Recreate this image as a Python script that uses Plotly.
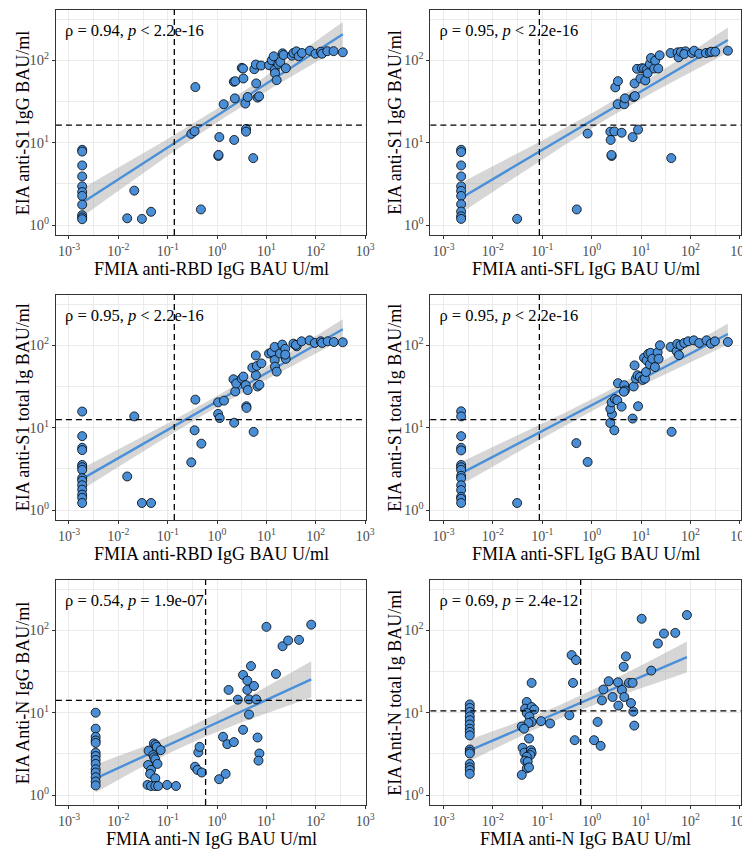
import math
import numpy as np
import plotly.graph_objects as go

# ---------------- data ----------------
p1_x = [0.00185, 0.00185, 0.00185, 0.00185, 0.00185, 0.00185, 0.00185, 0.00185, 0.00185, 0.00185, 0.00185,
        0.021, 0.0151, 0.030, 0.046, 0.47, 0.363, 0.30, 0.35, 1.11, 1.06, 1.07, 2.22, 3.86, 3.86, 5.4,
        1.36, 2.29, 3.74, 4.17, 6.6, 7.1, 2.19, 2.33, 3.41, 6.2, 3.16, 3.36, 5.67, 6.1, 7.8, 11.3, 12.8,
        14.0, 14.7, 14.9, 16.1, 17.4, 19.1, 21.2, 22.2, 24.7, 32.6, 35.2, 40.4, 45.0, 52.5, 75.9, 98.5,
        126, 134, 171, 229, 352]
p1_y = [8.2, 7.8, 5.3, 3.9, 2.95, 2.52, 2.26, 1.77, 1.32, 1.24, 1.18,
        2.62, 1.21, 1.19, 1.45, 1.55, 47.3, 12.8, 13.8, 11.7, 6.9, 7.1, 10.8, 14.7, 13.6, 6.5,
        29.3, 34.5, 29.8, 35.8, 35.2, 36.5, 54.8, 55.8, 60.1, 52.4, 80.9, 79.4, 78.0, 88.8, 86.3, 87.1, 100,
        111.7, 76.5, 69.7, 57.4, 90.3, 95.5, 121.4, 115.9, 80.1, 113.8, 122.5, 128.3, 111.7, 122.5, 130.7, 120,
        127, 120, 129, 129, 125]

p2_x = [0.00228, 0.00228, 0.00228, 0.00228, 0.00228, 0.00228, 0.00228, 0.00228, 0.00228, 0.00228, 0.00228,
        0.031, 0.50, 0.83, 2.39, 2.88, 4.05, 2.43, 2.54, 2.52, 6.76, 8.7, 40.9, 3.37, 4.58, 4.73, 7.1, 7.5,
        3.01, 3.41, 7.4, 9.7, 12.2, 8.3, 10.4, 11.5, 13.0, 13.6, 15.1, 15.9, 18.5, 19.4, 22.3, 23.8, 39.7,
        55.0, 57.5, 64.3, 79.8, 75, 107, 119, 151, 206, 248, 268, 318, 574]
p2_y = [8.2, 7.7, 5.3, 3.9, 2.95, 2.6, 2.26, 1.79, 1.46, 1.28, 1.19,
        1.19, 1.55, 12.9, 13.6, 13.7, 13.2, 10.8, 6.9, 7.1, 11.7, 14.4, 6.5, 29.3, 29.3, 34.5, 35.8, 36.8,
        46.9, 55.8, 52.4, 60.1, 56.9, 78.7, 80.1, 79.4, 76.5, 69.7, 90.3, 106.6, 79.4, 99.1, 79.4, 114.9, 122.5,
        124.8, 108.7, 126, 128.3, 119, 122.5, 130.6, 120, 122.5, 124.8, 127, 127, 130.6]

p3_x = [0.00185, 0.00185, 0.00185, 0.00185, 0.00185, 0.00185, 0.00185, 0.00185, 0.00185, 0.00185, 0.00185,
        0.00185, 0.00185, 0.00185,
        0.021, 0.0151, 0.030, 0.046, 0.30, 0.35, 0.48, 0.363, 1.05, 1.38, 1.05, 1.13, 2.22, 5.5, 3.92, 3.95,
        2.33, 2.15, 2.44, 3.16, 3.41, 3.8, 4.17, 6.1, 6.6, 7.2, 5.17, 6.4, 7.9, 6.1, 11.3, 12.8, 14.7, 14.7,
        14.9, 16.1, 18.8, 20.9, 24.0, 24.7, 24.0, 35.2, 41.0, 39.5, 51.6, 74.7, 95.5, 126, 134, 174, 232, 352]
p3_y = [15.7, 7.9, 5.7, 5.35, 3.53, 3.31, 3.08, 2.44, 2.27, 2.0, 1.77, 1.54, 1.41, 1.22,
        13.7, 2.56, 1.22, 1.22, 3.8, 9.3, 6.4, 21.9, 20.3, 21.3, 14.7, 13.1, 11.5, 8.9, 18.2, 17.4,
        27.5, 38.7, 34.4, 39.4, 41.7, 32.8, 28.6, 43.3, 31.6, 33.1, 53.5, 56.0, 60.3, 75.2, 79.4, 82.4, 95.5, 66.1,
        55.0, 47.9, 79.4, 101.9, 90.4, 68.5, 77.0, 104.7, 97.3, 101, 111.7, 114.8, 106.7, 111.7, 106.7, 111.7, 109.6, 108.7]

p4_x = [0.00228, 0.00228, 0.00228, 0.00228, 0.00228, 0.00228, 0.00228, 0.00228, 0.00228, 0.00228, 0.00228,
        0.00228, 0.00228, 0.00228, 0.00228,
        0.031, 0.49, 0.83, 2.39, 2.88, 2.58, 2.39, 2.54, 2.97, 3.31, 4.05, 6.76, 8.7, 41.6, 3.41, 4.58, 4.73,
        4.5, 7.1, 7.4, 7.9, 8.5, 9.5, 10.8, 12.0, 12.6, 11.5, 13.0, 14.0, 15.6, 15.1, 16.9, 19.1, 21.7, 22.7,
        24.2, 39.7, 52.5, 58.5, 54.1, 63.1, 75, 90, 117, 151, 212, 260, 313, 574]
p4_y = [15.8, 13.7, 7.9, 5.7, 5.3, 3.53, 3.31, 3.08, 2.61, 2.44, 2.0, 1.75, 1.45, 1.37, 1.22,
        1.22, 6.5, 3.84, 11.4, 9.3, 14.6, 16.9, 20.3, 22.3, 21.5, 18.0, 12.9, 18.2, 8.9, 34.7, 32.8, 28.3,
        27.3, 31.6, 57.0, 39.4, 43.3, 41.3, 38.0, 39.4, 47.4, 70.5, 65.5, 78.7, 80.9, 58.6, 68.5, 54.4, 82.4, 68.5,
        100, 95.5, 84.7, 75.9, 103.8, 100, 106.7, 111.7, 114.8, 106.7, 114.8, 104.7, 111.7, 109.6]

p5_x = [0.00347, 0.00347, 0.00347, 0.00347, 0.00347, 0.00347, 0.00347, 0.00347, 0.00347, 0.00347, 0.00347,
        0.00347, 0.00347, 0.00347,
        0.041, 0.0525, 0.0567, 0.060, 0.072, 0.051, 0.053, 0.056, 0.040, 0.046, 0.062, 0.044, 0.056, 0.039,
        0.046, 0.056, 0.064, 0.097, 0.147, 0.417, 0.443, 0.357, 0.40, 0.49, 1.10, 1.49, 1.32, 1.61, 2.19,
        1.71, 2.63, 3.36, 3.36, 4.1, 4.1, 4.43, 4.43, 4.86, 5.6, 6.2, 6.6, 7.2, 6.9, 10.0, 15.6, 21.2, 27.5,
        45.7, 80.7]
p5_y = [10.0, 6.4, 5.1, 4.6, 4.3, 3.27, 2.98, 2.67, 2.39, 2.06, 1.88, 1.65, 1.46, 1.31,
        3.45, 4.24, 4.08, 3.85, 3.51, 3.06, 2.87, 2.72, 2.32, 2.02, 2.39, 1.81, 1.60, 1.33,
        1.29, 1.29, 1.29, 1.33, 1.29, 3.3, 3.85, 2.21, 2.02, 1.88, 1.56, 1.81, 5.1, 4.15, 4.4,
        18.9, 14.4, 6.2, 28.7, 24.5, 18.9, 9.5, 14.5, 36.8, 21.1, 14.5, 5.0, 3.2, 2.62, 110, 29.5, 64.1, 75.1,
        76.5, 117]

p6_x = [0.00341, 0.00341, 0.00341, 0.00341, 0.00341, 0.00341, 0.00341, 0.00341, 0.00341, 0.00341, 0.00341,
        0.00341, 0.00341, 0.00341, 0.00341, 0.00341,
        0.0486, 0.045, 0.061, 0.069, 0.0486, 0.055, 0.061, 0.0525, 0.0385, 0.0428, 0.054, 0.040, 0.0435,
        0.059, 0.061, 0.0575, 0.0486, 0.045, 0.0508, 0.0486, 0.054, 0.0385, 0.061, 0.0946, 0.144,
        0.394, 0.483, 0.42, 0.354, 0.454, 1.12, 1.52, 1.32, 1.62, 1.73, 2.21, 2.66, 3.41, 3.47, 4.11, 4.45,
        4.58, 4.95, 5.7, 6.76, 6.26, 6.98, 7.3, 10.3, 16.1, 22.0, 29.1, 49.3, 84.9]
p6_y = [12.6, 11.4, 10.2, 9.0, 8.1, 7.2, 6.4, 5.85, 5.3, 3.58, 3.36, 3.2, 2.39, 2.17, 2.02, 1.81,
        13.5, 11.2, 11.7, 10.9, 9.9, 9.0, 7.7, 7.5, 6.8, 6.4, 4.86, 3.75, 3.27,
        3.51, 3.27, 3.06, 2.92, 2.62, 2.55, 2.11, 2.17, 1.76, 23.0, 7.9, 7.4,
        50.0, 43.5, 23.0, 9.3, 4.64, 4.64, 3.96, 7.73, 14.1, 19.1, 24.1, 15.5, 23.4, 12.2, 18.9, 36.1,
        15.5, 48.2, 23.0, 23.0, 13.1, 10.3, 6.97, 138, 32.4, 69.1, 91.2, 92.9, 153]

cut_x = [0.136, 0.0875, 0.136, 0.0875, 0.585, 0.60]
cut_y = [16.3, 16.3, 12.5, 12.5, 14.1, 10.5]
cor_labels = ["ρ = 0.94, <i>p</i> &lt; 2.2e-16", "ρ = 0.95, <i>p</i> &lt; 2.2e-16",
              "ρ = 0.95, <i>p</i> &lt; 2.2e-16", "ρ = 0.95, <i>p</i> &lt; 2.2e-16",
              "ρ = 0.54, <i>p</i> = 1.9e-07", "ρ = 0.69, <i>p</i> = 2.4e-12"]
x_titles = ["FMIA anti-RBD IgG BAU U/ml", "FMIA anti-SFL IgG BAU U/ml",
            "FMIA anti-RBD IgG BAU U/ml", "FMIA anti-SFL IgG BAU U/ml",
            "FMIA anti-N IgG BAU U/ml", "FMIA anti-N IgG BAU U/ml"]
y_titles = ["EIA anti-S1 IgG BAU/ml", "EIA anti-S1 IgG BAU/ml",
            "EIA anti-S1 total Ig BAU/ml", "EIA anti-S1 total Ig BAU/ml",
            "EIA Anti-N IgG BAU/ml", "EIA Anti-N total Ig BAU/ml"]
x_tick_vals = [1e-3, 1e-2, 1e-1, 1e0, 1e1, 1e2, 1e3]
x_tick_text = ["10<sup>-3</sup>", "10<sup>-2</sup>", "10<sup>-1</sup>", "10<sup>0</sup>",
               "10<sup>1</sup>", "10<sup>2</sup>", "10<sup>3</sup>"]
y_tick_vals = [1e0, 1e1, 1e2]
y_tick_text = ["10<sup>0</sup>", "10<sup>1</sup>", "10<sup>2</sup>"]

xs = [p1_x, p2_x, p3_x, p4_x, p5_x, p6_x]
ys = [p1_y, p2_y, p3_y, p4_y, p5_y, p6_y]

# ---------------- layout geometry / style ----------------
W, H = 750, 851
col_px = [(48.5, 362.5), (427.5, 741.7)]
row_px = [(2, 227), (287, 512), (572, 797)]
ytitle_x = [15, 391]
XR = [-3.265, 3.02]
YR = [-0.12, 2.61]
FONT = "Liberation Serif, Times New Roman, serif"
PT_FILL = "#4A8FD6"
LINE_COL = "#4A90D9"
BORDER = "#333333"
GRID = "#EBEBEB"

x_minor = [10 ** (k + 0.5) for k in range(-3, 3)]
y_minor = [10 ** (k + 0.5) for k in range(0, 3)]

fig = go.Figure()
shapes = []
annotations = []

for i in range(6):
    r, c = divmod(i, 2)
    sfx = "" if i == 0 else str(i + 1)
    xa, ya = "x" + sfx, "y" + sfx

    lx = np.log10(np.array(xs[i], dtype=float))
    ly = np.log10(np.array(ys[i], dtype=float))
    n = len(lx)
    b, a = np.polyfit(lx, ly, 1)
    resid = ly - (a + b * lx)
    s = math.sqrt(float((resid ** 2).sum()) / (n - 2))
    xbar = lx.mean()
    sxx = float(((lx - xbar) ** 2).sum())
    grid = np.linspace(lx.min(), lx.max(), 80)
    fit = a + b * grid
    se = s * np.sqrt(1.0 / n + (grid - xbar) ** 2 / sxx)
    z = 1.959964
    t = z + (z ** 3 + z) / (4 * (n - 2))
    lo, hi = fit - t * se, fit + t * se

    fig.add_trace(go.Scatter(
        x=10 ** np.concatenate([grid, grid[::-1]]),
        y=10 ** np.concatenate([hi, lo[::-1]]),
        fill="toself", fillcolor="rgba(153,153,153,0.4)", line=dict(width=0),
        mode="lines", hoverinfo="skip", xaxis=xa, yaxis=ya))
    fig.add_trace(go.Scatter(
        x=10 ** grid, y=10 ** fit, mode="lines",
        line=dict(color=LINE_COL, width=2.4), xaxis=xa, yaxis=ya))
    fig.add_trace(go.Scatter(
        x=xs[i], y=ys[i], mode="markers",
        marker=dict(size=9, color=PT_FILL, line=dict(color="black", width=0.8)),
        xaxis=xa, yaxis=ya))
    fig.add_trace(go.Scatter(
        x=[10 ** -3.08], y=[10 ** 2.34], mode="text", text=[cor_labels[i]],
        textposition="middle right",
        textfont=dict(family=FONT, size=16.5, color="black"),
        xaxis=xa, yaxis=ya, cliponaxis=False))

    x0, x1 = col_px[c]
    top, bot = row_px[r]
    fig.layout["xaxis" + sfx] = dict(
        domain=[x0 / W, x1 / W], anchor=ya, type="log", range=XR,
        tickmode="array", tickvals=x_tick_vals, ticktext=x_tick_text,
        showgrid=True, gridcolor=GRID, gridwidth=1,
        minor=dict(tickvals=x_minor, showgrid=True, gridcolor=GRID, gridwidth=0.5, ticklen=0),
        showline=True, mirror=True, linecolor=BORDER, linewidth=1,
        ticks="outside", ticklen=3, tickcolor=BORDER, tickwidth=1,
        tickfont=dict(family=FONT, size=14, color="#4D4D4D"), zeroline=False)
    fig.layout["yaxis" + sfx] = dict(
        domain=[1 - bot / H, 1 - top / H], anchor=xa, type="log", range=YR,
        tickmode="array", tickvals=y_tick_vals, ticktext=y_tick_text,
        showgrid=True, gridcolor=GRID, gridwidth=1,
        minor=dict(tickvals=y_minor, showgrid=True, gridcolor=GRID, gridwidth=0.5, ticklen=0),
        showline=True, mirror=True, linecolor=BORDER, linewidth=1,
        ticks="outside", ticklen=3, tickcolor=BORDER, tickwidth=1,
        tickfont=dict(family=FONT, size=14.5, color="#4D4D4D"), zeroline=False)

    dash = dict(color="black", width=1.3, dash="6px,4px")
    # shapes on log axes take data values here
    shapes.append(dict(type="line", xref=xa, yref=ya + " domain",
                       x0=cut_x[i], x1=cut_x[i], y0=0, y1=1,
                       line=dash, layer="above"))
    shapes.append(dict(type="line", xref=xa + " domain", yref=ya,
                       x0=0, x1=1, y0=cut_y[i], y1=cut_y[i],
                       line=dash, layer="above"))

    annotations.append(dict(text=x_titles[i], xref="paper", yref="paper",
                            x=(x0 + x1) / 2 / W, y=1 - (bot + 34) / H,
                            xanchor="center", yanchor="middle", showarrow=False,
                            font=dict(family=FONT, size=18, color="black")))
    annotations.append(dict(text=y_titles[i], xref="paper", yref="paper",
                            x=ytitle_x[c] / W, y=1 - (top + bot) / 2 / H,
                            xanchor="center", yanchor="middle", textangle=-90, showarrow=False,
                            font=dict(family=FONT, size=18, color="black")))

fig.update_layout(
    width=W, height=H, margin=dict(l=0, r=0, t=0, b=0),
    paper_bgcolor="white", plot_bgcolor="white", showlegend=False,
    shapes=shapes, annotations=annotations,
    font=dict(family=FONT))

fig.write_html("out.html")
